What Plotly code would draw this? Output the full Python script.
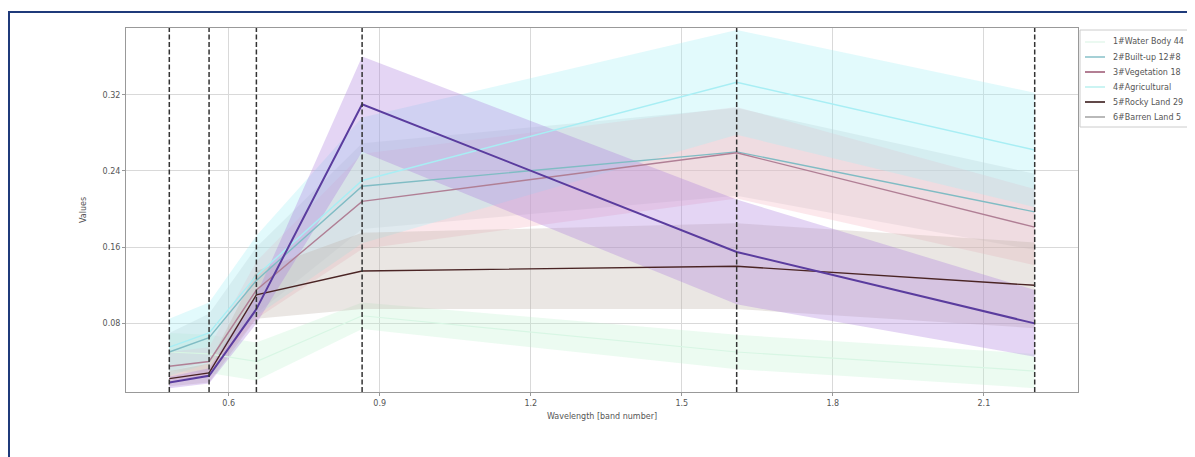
import plotly.graph_objects as go

# Landsat band centre wavelengths (micrometres)
wavelengths = [0.482, 0.561, 0.655, 0.865, 1.609, 2.201]

names = ["1#Water Body 44", "2#Built-up 12#8", "3#Vegetation 18",
         "4#Agricultural", "5#Rocky Land 29", "6#Barren Land 5"]

water_mean = [0.050, 0.048, 0.040, 0.088, 0.050, 0.030]
water_std = [0.020, 0.020, 0.020, 0.014, 0.018, 0.018]

builtup_mean = [0.050, 0.065, 0.125, 0.224, 0.260, 0.197]
builtup_std = [0.020, 0.025, 0.035, 0.045, 0.046, 0.040]

veget_mean = [0.035, 0.040, 0.115, 0.208, 0.259, 0.181]
veget_std = [0.015, 0.015, 0.030, 0.050, 0.048, 0.040]

agri_mean = [0.055, 0.070, 0.130, 0.230, 0.333, 0.262]
agri_std = [0.030, 0.032, 0.042, 0.066, 0.055, 0.060]

rocky_mean = [0.022, 0.028, 0.110, 0.135, 0.140, 0.120]
rocky_std = [0.008, 0.010, 0.025, 0.040, 0.045, 0.045]

barren_mean = [0.018, 0.025, 0.095, 0.310, 0.155, 0.080]
barren_std = [0.006, 0.008, 0.015, 0.050, 0.055, 0.035]

x_ticks = [0.6, 0.9, 1.2, 1.5, 1.8, 2.1]
y_ticks = [0.08, 0.16, 0.24, 0.32]

series = [
    (names[0], water_mean, water_std, "#d8f6e4", "rgba(185,242,205,0.28)", 1.2),
    (names[1], builtup_mean, builtup_std, "#80bcc4", "rgba(195,200,205,0.32)", 1.4),
    (names[2], veget_mean, veget_std, "#b07f95", "rgba(245,185,195,0.32)", 1.4),
    (names[3], agri_mean, agri_std, "#a8eef4", "rgba(165,238,246,0.32)", 1.4),
    (names[4], rocky_mean, rocky_std, "#4a2424", "rgba(190,178,168,0.32)", 1.4),
    (names[5], barren_mean, barren_std, "#5a3c9e", "rgba(172,125,222,0.32)", 2.0),
]

# page offset of the figure (browser body margin)
OFF = 8
W, H = 1195 - OFF, 457 - OFF
# plot-area geometry in page pixels
L, R, T, B = 126 - OFF, 1078 - OFF, 28 - OFF, 392 - OFF


def px(x):
    return (x - OFF - L) / (R - L)


def py(y):
    return (B - (y - OFF)) / (B - T)


fig = go.Figure()

for name, mean, std, lc, fc, lw in series:
    upper = [m + s for m, s in zip(mean, std)]
    lower = [m - s for m, s in zip(mean, std)]
    fig.add_trace(go.Scatter(x=wavelengths, y=upper, mode="lines",
                             line=dict(width=0, color=fc), showlegend=False,
                             hoverinfo="skip"))
    fig.add_trace(go.Scatter(x=wavelengths, y=lower, mode="lines",
                             line=dict(width=0, color=fc), fill="tonexty",
                             fillcolor=fc, showlegend=False, hoverinfo="skip"))

for name, mean, std, lc, fc, lw in series:
    fig.add_trace(go.Scatter(x=wavelengths, y=mean, mode="lines", name=name,
                             line=dict(color=lc, width=lw), showlegend=False))

# dashed band markers
for w in wavelengths:
    fig.add_shape(type="line", xref="x", yref="paper", x0=w, x1=w, y0=0, y1=1,
                  line=dict(color="#333333", width=1.5, dash="5px,2.5px"))

# legend box (drawn manually, matplotlib-like compact spacing)
fig.add_shape(type="rect", xref="paper", yref="paper",
              x0=px(1080), x1=px(1215), y0=py(127), y1=py(30),
              line=dict(color="#cccccc", width=1), fillcolor="white")
legend_colors = ["#e6f8ee", "#8fc4cc", "#a0607a", "#bff2f0", "#3a1c1c", "#a8a8a8"]
for i, (s, lcol) in enumerate(zip(series, legend_colors)):
    yy = 42 + i * 15
    fig.add_shape(type="line", xref="paper", yref="paper",
                  x0=px(1085), x1=px(1105), y0=py(yy), y1=py(yy),
                  line=dict(color=lcol, width=1.6))
    fig.add_annotation(xref="paper", yref="paper", x=px(1111), y=py(yy),
                       xanchor="left", yanchor="middle", showarrow=False,
                       text=s[0], font=dict(size=8, color="#555555"))

# document frame around the figure
fig.add_shape(type="rect", xref="paper", yref="paper",
              x0=px(OFF + 1), x1=px(1215), y0=py(480), y1=py(12),
              line=dict(color="#1f3a7a", width=2), fillcolor="rgba(0,0,0,0)",
              layer="below")

fig.update_layout(
    width=W, height=H,
    margin=dict(l=L, r=W - R, t=T, b=H - B, autoexpand=False),
    paper_bgcolor="white", plot_bgcolor="white",
    font=dict(family="DejaVu Sans", size=8, color="#555555"),
    showlegend=False,
    xaxis=dict(range=[0.396, 2.287], tickvals=x_ticks,
               ticktext=[f"{v:.1f}" for v in x_ticks],
               showgrid=True, gridcolor="#d9d9d9", gridwidth=1,
               showline=True, linecolor="#999999", linewidth=1, mirror=True,
               ticks="outside", ticklen=3, tickcolor="#999999",
               zeroline=False, automargin=False,
               title=dict(text="Wavelength [band number]", standoff=6,
                          font=dict(size=8, color="#555555"))),
    yaxis=dict(range=[0.008, 0.390], tickvals=y_ticks,
               ticktext=[f"{v:.2f}" for v in y_ticks],
               showgrid=True, gridcolor="#d9d9d9", gridwidth=1,
               showline=True, linecolor="#999999", linewidth=1, mirror=True,
               ticks="outside", ticklen=3, tickcolor="#999999",
               zeroline=False, automargin=False,
               title=dict(text="Values", standoff=14,
                          font=dict(size=8, color="#555555"))),
)

fig.write_html("out.html")
